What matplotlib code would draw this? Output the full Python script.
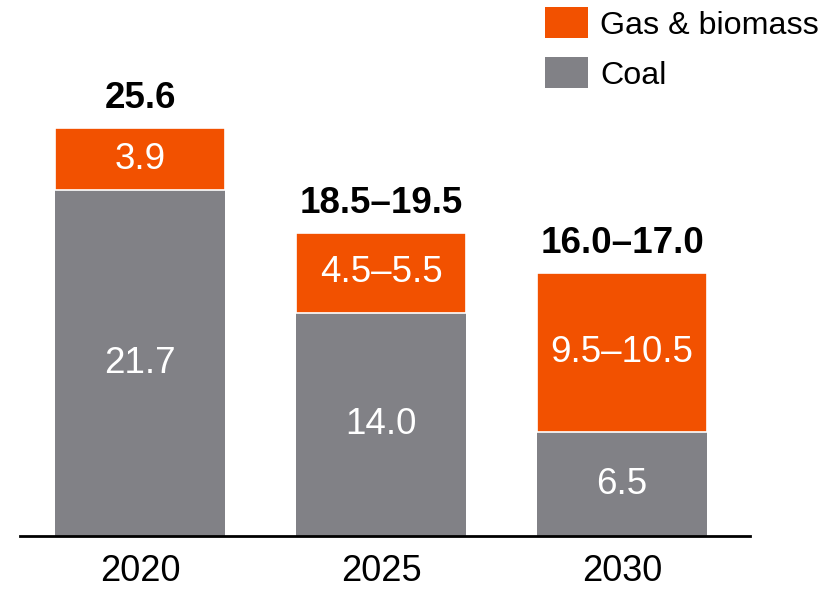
import matplotlib
matplotlib.use("Agg")
import matplotlib.pyplot as plt
from matplotlib.patches import Rectangle

plt.rcParams['font.family'] = ['Liberation Sans', 'DejaVu Sans']

years = ["2020", "2025", "2030"]
coal = [21.7, 14.0, 6.5]
gas_low = [3.9, 4.5, 9.5]
gas_high = [3.9, 5.5, 10.5]
total_low = [25.6, 18.5, 16.0]
total_high = [25.6, 19.5, 17.0]
series_names = ["Gas & biomass", "Coal"]

ORANGE = "#F25100"
GRAY = "#818186"

gas_mid = [(a + b) / 2 for a, b in zip(gas_low, gas_high)]


def fmt_range(lo, hi):
    if lo == hi:
        return f"{lo:.1f}"
    return f"{lo:.1f}\u2013{hi:.1f}"


fig = plt.figure(figsize=(8.2, 5.91), dpi=100)
ax = fig.add_axes([20 / 820, 55 / 591, 730 / 820, 536 / 591])

x = list(range(len(years)))
width = 0.705
ax.bar(x, coal, width=width, color=GRAY, linewidth=0)
ax.bar(x, gas_mid, width=width, bottom=coal, color=ORANGE,
       edgecolor="white", linewidth=1.2)

for i in x:
    ax.text(i, coal[i] / 2, f"{coal[i]:.1f}", ha="center", va="center",
            color="white", fontsize=26.5)
    ax.text(i, coal[i] + gas_mid[i] / 2, fmt_range(gas_low[i], gas_high[i]),
            ha="center", va="center", color="white", fontsize=26.5)
    ax.annotate(fmt_range(total_low[i], total_high[i]),
                (i, coal[i] + gas_mid[i]), xytext=(0, 8.5),
                textcoords="offset points", ha="center", va="bottom",
                fontsize=26.5, fontweight="bold", color="black")

ax.set_xlim(-0.498, 2.531)
ax.set_ylim(0, 536 / 15.94)
ax.set_xticks(x)
ax.set_xticklabels(years, fontsize=26)
ax.tick_params(axis="x", length=0, pad=13)
ax.set_yticks([])
for side in ["left", "right", "top"]:
    ax.spines[side].set_visible(False)
ax.spines["bottom"].set_linewidth(2)
ax.spines["bottom"].set_color("black")

# legend drawn in figure pixels
for (name, color, top) in [(series_names[0], ORANGE, 7), (series_names[1], GRAY, 57)]:
    fig.patches.append(Rectangle((545 / 820, (591 - top - 31) / 591), 43 / 820, 31 / 591,
                                 transform=fig.transFigure, color=color, linewidth=0))
    fig.text(600 / 820, (591 - top - 19) / 591, name, ha="left", va="center",
             fontsize=23.2, color="black")

fig.savefig("out.png", dpi=100)
